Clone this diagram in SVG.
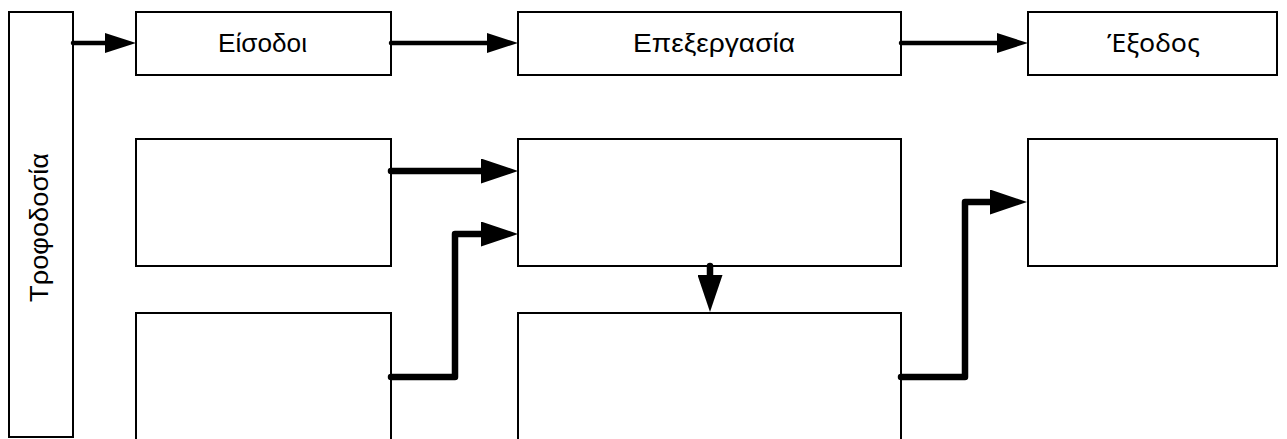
<svg xmlns="http://www.w3.org/2000/svg" width="1287" height="439" viewBox="0 0 1287 439">
<style>
.box{fill:#fff;stroke:#000;stroke-width:2}
.t{font-family:"Liberation Sans",Arial,sans-serif;font-size:25px;fill:#000;text-anchor:middle}
.t2{font-family:"Noto Sans","Open Sans",sans-serif;font-size:25px;fill:#000;text-anchor:middle}
.c1{fill:none;stroke:#000;stroke-width:4.5;stroke-linecap:round;stroke-linejoin:round}
.c2{fill:none;stroke:#000;stroke-width:6.5;stroke-linecap:round;stroke-linejoin:round}
</style>
<defs>
<marker id="hs" markerUnits="userSpaceOnUse" viewBox="0 0 31 20" markerWidth="31" markerHeight="20" refX="0" refY="10" orient="auto"><path d="M0,0 L31,10 L0,20 z" fill="#000"/></marker>
<marker id="hl" markerUnits="userSpaceOnUse" viewBox="0 0 37 25" markerWidth="37" markerHeight="25" refX="0" refY="12.5" orient="auto"><path d="M0,0 L37,12.5 L0,25 z" fill="#000"/></marker>
</defs>
<rect width="1287" height="439" fill="#fff"/>
<g id="trofodosia"><rect class="box" x="9" y="12" width="64" height="425"/><text class="t" transform="translate(48,227.5) rotate(-90)" textLength="149" lengthAdjust="spacingAndGlyphs">Τροφοδοσία</text></g>
<g id="eisodoi"><rect class="box" x="136" y="12" width="255" height="63"/><text class="t" x="262.5" y="51.5" textLength="89" lengthAdjust="spacingAndGlyphs">Είσοδοι</text></g>
<g id="epexergasia"><rect class="box" x="518" y="12" width="383" height="63"/><text class="t" x="714" y="51.5" textLength="162" lengthAdjust="spacingAndGlyphs">Επεξεργασία</text></g>
<g id="exodos"><rect class="box" x="1028" y="12" width="249" height="63"/><text class="t2" x="1153.5" y="51.5" textLength="93" lengthAdjust="spacingAndGlyphs">Έξοδος</text></g>
<g id="in1"><rect class="box" x="136" y="139" width="255" height="127"/></g>
<g id="proc1"><rect class="box" x="518" y="139" width="383" height="127"/></g>
<g id="out1"><rect class="box" x="1028" y="139" width="249" height="127"/></g>
<g id="in2"><rect class="box" x="136" y="313" width="255" height="140"/></g>
<g id="proc2"><rect class="box" x="518" y="313" width="383" height="140"/></g>
<g id="connectors">
<path class="c1" d="M73,43 H105" marker-end="url(#hs)"/>
<path class="c1" d="M391,43 H487" marker-end="url(#hs)"/>
<path class="c1" d="M901,43 H997" marker-end="url(#hs)"/>
<path class="c2" d="M391,171 H481" marker-end="url(#hl)"/>
<path class="c2" d="M391,377 H455 V234 H481" marker-end="url(#hl)"/>
<path class="c2" d="M710,266 V275" marker-end="url(#hl)"/>
<path class="c2" d="M901,377 H965 V202 H990" marker-end="url(#hl)"/>
</g>
</svg>
